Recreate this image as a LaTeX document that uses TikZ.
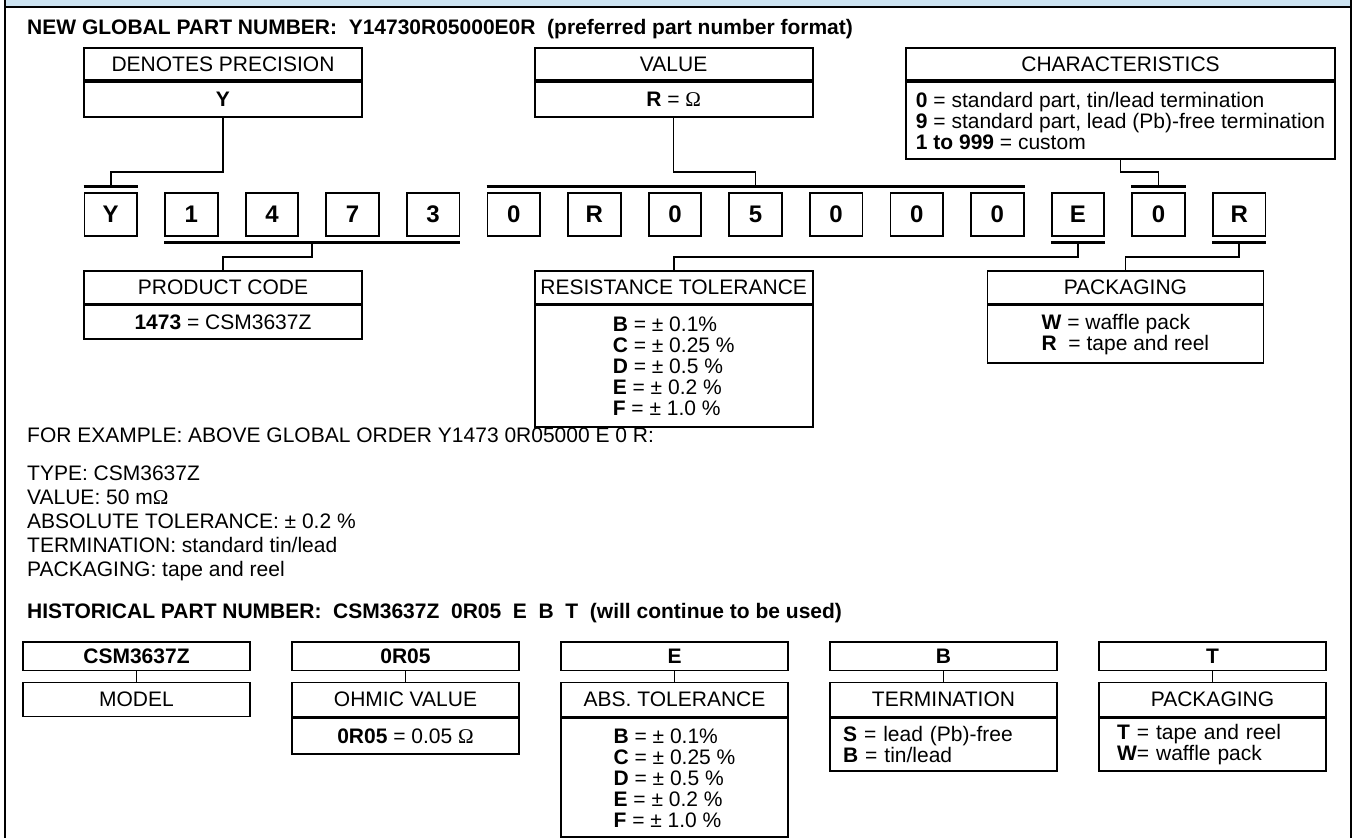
\documentclass[tikz,border=0pt]{standalone}
\usepackage{fontspec}
\setmainfont{Liberation Sans}
\newfontfamily\seriffont{Liberation Serif}
\usetikzlibrary{positioning}
\usetikzlibrary{calc}

\definecolor{bandblue}{RGB}{204,227,241}
\newcommand{\txtsize}{\fontsize{21}{21}\selectfont}
\newcommand{\digitsize}{\fontsize{24}{24}\selectfont}
\newcommand{\ohmsym}{{\seriffont Ω}}

\begin{document}
\begin{tikzpicture}[x=1pt,y=-1pt,
  infobox/.style={draw, line width=1.8pt, inner sep=0pt, align=center, font=\txtsize},
  digitbox/.style={draw, line width=1.8pt, inner sep=0pt, minimum width=52.5pt, minimum height=42.5pt, font=\digitsize\bfseries},
  digitbar/.style={line width=3pt},
  link/.style={line width=1.6pt},
  plaintext/.style={anchor=base west, inner sep=0pt, font=\txtsize}]

\useasboundingbox (0,0) rectangle (1354,838);

% band and frame
\fill[bandblue] (5,0) rectangle (1351,7.3);
\draw[line width=2pt] (5,838) -- (5,0) (1351,0) -- (1351,838) (5,7.3) -- (1351,7.3);

% new part number
\node[plaintext, font=\txtsize\bfseries] (newpn) at (27,34) {NEW GLOBAL PART NUMBER:\ \ Y14730R05000E0R\ \ (preferred part number format)};

\node[infobox, minimum width=278pt, minimum height=32.6pt] (prec) at (223,64) {DENOTES PRECISION};
\node[infobox, minimum width=278pt, minimum height=34.7pt, anchor=north] (precv) at (prec.south) {\textbf{Y}};

\node[infobox, minimum width=278pt, minimum height=32.6pt] (val) at (673.6,64) {VALUE};
\node[infobox, minimum width=278pt, minimum height=34.7pt, anchor=north] (valv) at (val.south) {\textbf{R} = \ohmsym};

\node[infobox, minimum width=429.5pt, minimum height=32.6pt] (chr) at (1120.5,64) {CHARACTERISTICS};
\node[infobox, align=left, minimum width=429.5pt, minimum height=77pt, anchor=north] (chrv) at (chr.south)
  {\textbf{0} = standard part, tin/lead termination\\
   \textbf{9} = standard part, lead (Pb)-free termination\\
   \textbf{1 to 999} = custom};

% digits
\foreach \ch [count=\i from 0] in {Y,1,4,7,3,0,R,0,5,0,0,0,E,0,R}
  \node[digitbox] (d\i) at (110.75+80.6*\i,214.35) {\ch};

\draw[digitbar] ([yshift=5.8pt]d0.north west) -- coordinate (tY) ([yshift=5.8pt]d0.north east);
\draw[digitbar] ([yshift=5.8pt]d5.north west) -- coordinate (tVal) ([yshift=5.8pt]d11.north east);
\draw[digitbar] ([yshift=5.8pt]d13.north west) -- coordinate (tCh) ([yshift=5.8pt]d13.north east);
\draw[digitbar] ([yshift=-5.5pt]d1.south west) -- coordinate (bPc) ([yshift=-5.5pt]d4.south east);
\draw[digitbar] ([yshift=-5.5pt]d12.south west) -- coordinate (bE) ([yshift=-5.5pt]d12.south east);
\draw[digitbar] ([yshift=-5.5pt]d14.south west) -- coordinate (bR) ([yshift=-5.5pt]d14.south east);

\coordinate (upjoin) at (0,172);
\coordinate (lowjoin) at (0,256.7);

\node[infobox, minimum width=278pt, minimum height=32.6pt] (prod) at (223,287.2) {PRODUCT CODE};
\node[infobox, minimum width=278pt, minimum height=33.7pt, anchor=north] (prodv) at (prod.south) {\textbf{1473} = CSM3637Z};

\node[infobox, minimum width=278pt, minimum height=32.6pt] (res) at (673.7,287.2) {RESISTANCE TOLERANCE};
\node[infobox, align=left, minimum width=278pt, minimum height=121.4pt, anchor=north] (resv) at (res.south)
  {\textbf{B} = ± 0.1\%\\ \textbf{C} = ± 0.25 \%\\ \textbf{D} = ± 0.5 \%\\ \textbf{E} = ± 0.2 \%\\ \textbf{F} = ± 1.0 \%};

\node[infobox, minimum width=276pt, minimum height=32.6pt] (pack) at (1125.4,287.2) {PACKAGING};
\node[infobox, align=left, minimum width=276pt, minimum height=58pt, anchor=north] (packv) at (pack.south)
  {\textbf{W} = waffle pack\\ \textbf{R}\ \ = tape and reel};

\draw[link] (precv.south) -- (precv.south |- upjoin) -| (tY);
\draw[link] (valv.south) -- (valv.south |- upjoin) -| (tVal);
\draw[link] (chrv.south) -- (chrv.south |- upjoin) -| (tCh);
\draw[link] (bPc) -- (bPc |- lowjoin) -| (prod.north);
\draw[link] (bE) -- (bE |- lowjoin) -| (res.north);
\draw[link] (bR) -- (bR |- lowjoin) -| (pack.north);

% example
\node[plaintext] (forex) at (27,442.5) {FOR EXAMPLE: ABOVE GLOBAL ORDER Y1473 0R05000 E 0 R:};
\foreach \ln [count=\k from 0] in {TYPE: CSM3637Z, VALUE: 50 m\ohmsym, ABSOLUTE TOLERANCE: ± 0.2 \%, TERMINATION: standard tin/lead, PACKAGING: tape and reel}
  \node[plaintext] (ex\k) at (27,480+24*\k) {\ln};

% historical part number
\node[plaintext, font=\txtsize\bfseries] (oldpn) at (27,618) {HISTORICAL PART NUMBER:\ \ CSM3637Z\ \ 0R05\ \ E\ \ B\ \ T\ \ (will continue to be used)};

\foreach \nm/\code/\head [count=\k from 0] in {model/CSM3637Z/MODEL, ohm/0R05/OHMIC VALUE, abs/E/ABS. TOLERANCE, term/B/TERMINATION, hpack/T/PACKAGING} {
  \node[infobox, font=\txtsize\bfseries, minimum width=227.5pt, minimum height=28.8pt] (c\nm) at (136.5+269*\k,656.1) {\code};
  \node[infobox, minimum width=227.5pt, minimum height=34pt] (\nm) at (136.5+269*\k,699.5) {\head};
  \draw[link] (c\nm) -- (\nm);
}

\node[infobox, minimum width=227.5pt, minimum height=35.5pt, anchor=north] (ohmv) at (ohm.south) {\textbf{0R05} = 0.05 \ohmsym};
\node[infobox, align=left, minimum width=227.5pt, minimum height=119pt, anchor=north] (absv) at (abs.south)
  {\textbf{B} = ± 0.1\%\\ \textbf{C} = ± 0.25 \%\\ \textbf{D} = ± 0.5 \%\\ \textbf{E} = ± 0.2 \%\\ \textbf{F} = ± 1.0 \%};
\node[infobox, align=left, text width=201pt, inner xsep=13.25pt, minimum height=53pt, anchor=north] (termv) at (term.south)
  {\textbf{S} = lead (Pb)-free\\ \textbf{B} = tin/lead};
\node[infobox, align=left, text width=191pt, inner xsep=18.25pt, minimum height=53pt, anchor=north] (hpackv) at (hpack.south)
  {\textbf{T}\ = tape and reel\\ \textbf{W}= waffle pack};

\end{tikzpicture}
\end{document}
